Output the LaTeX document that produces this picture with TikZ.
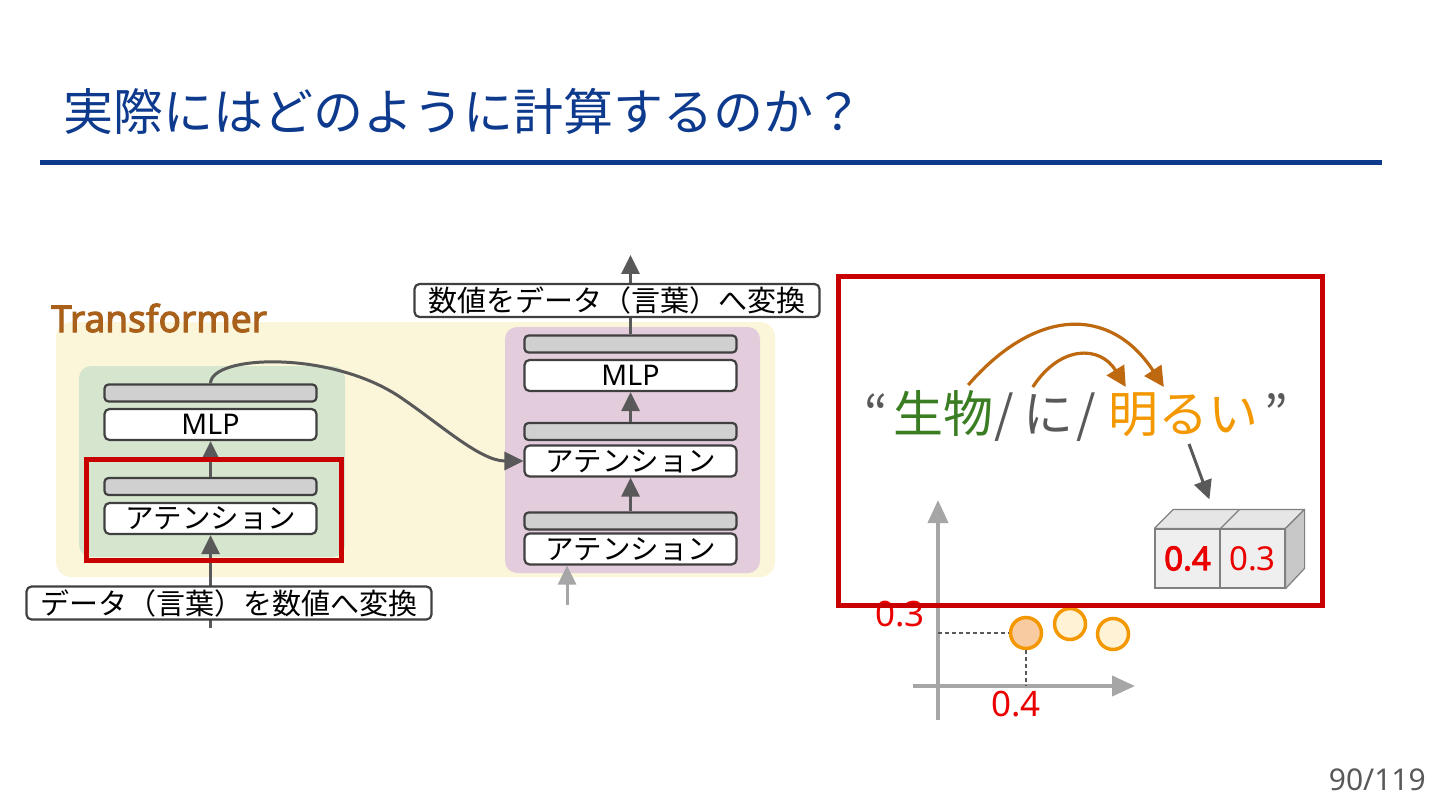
\documentclass[tikz,border=0pt]{standalone}
\usepackage{fontspec}
\setmainfont{Noto Sans CJK JP}
\newfontfamily\latfont{Noto Sans}
\newfontfamily\boldlat{Noto Sans}[FakeBold=3]
\usetikzlibrary{arrows.meta}
\definecolor{titleblue}{RGB}{14,58,142}
\definecolor{dk}{RGB}{64,64,64}
\definecolor{arrg}{RGB}{89,89,89}
\definecolor{barg}{RGB}{208,208,208}
\definecolor{ybg}{RGB}{251,246,218}
\definecolor{gbg}{RGB}{214,230,206}
\definecolor{pbg}{RGB}{227,204,220}
\definecolor{redbox}{RGB}{200,0,0}
\definecolor{brownlab}{RGB}{168,96,26}
\definecolor{brownarr}{RGB}{190,105,15}
\definecolor{wgreen}{RGB}{58,125,34}
\definecolor{worange}{RGB}{243,152,0}
\definecolor{numred}{RGB}{235,0,0}
\definecolor{axisg}{RGB}{166,166,166}
\definecolor{cubef}{RGB}{239,239,239}
\definecolor{cubet}{RGB}{230,230,230}
\definecolor{cubes}{RGB}{200,200,200}
\definecolor{cubee}{RGB}{128,128,128}
\definecolor{pfilla}{RGB}{248,203,160}
\definecolor{pfillb}{RGB}{255,242,213}
\newcommand{\myfs}[1]{\fontsize{#1pt}{#1pt}\selectfont}
\begin{document}
\begin{tikzpicture}[x=1pt,y=-1pt,
  bar/.style={draw=dk, line width=2.2pt, fill=barg, rounded corners=4pt, minimum width=212pt, minimum height=17pt, inner sep=0pt},
  blk/.style={draw=dk, line width=2.2pt, fill=white, rounded corners=5pt, minimum width=212pt, minimum height=31pt, inner sep=0pt, font=\myfs{28.5}},
  lbl/.style={draw=dk, line width=2.2pt, fill=white, rounded corners=5pt, minimum height=33pt, inner sep=0pt, inner xsep=14pt, font=\myfs{29}},
  arr/.style={draw=arrg, line width=3pt, -{Triangle[length=19pt,width=18pt]}},
  barr/.style={draw=brownarr, line width=3.2pt, -{Triangle[length=20pt,width=20pt]}, fill=none},
  ax/.style={draw=axisg, line width=4pt, -{Triangle[length=23pt,width=20pt]}},
  dsh/.style={draw=arrg, line width=1.1pt, dash pattern=on 4pt off 3pt},
  pt/.style={circle, draw=worange, line width=3.5pt, minimum size=31pt, inner sep=0pt},
  cell/.style={draw=cubee, line width=1.2pt, fill=cubef, minimum width=65pt, minimum height=59pt, inner sep=0pt, text=numred, font=\latfont\myfs{33}},
  word/.style={anchor=base, inner sep=0pt, font=\myfs{50}},
  num/.style={inner sep=0pt, text=numred, font=\latfont\myfs{35}}]
\useasboundingbox (0,0) rectangle (1440,810);
% title
\node[anchor=base west, inner sep=0pt, font=\myfs{50}, text=titleblue] (title) at (63,131) {実際にはどのように計算するのか？};
\fill[titleblue] (40,160) rectangle (1382,165);
\node[anchor=base east, inner sep=0pt, font=\latfont\myfs{30}, text=arrg] (pg) at (1426,790) {90/119};
% backgrounds
\fill[ybg, rounded corners=15pt] (56,322) rectangle (775,577);
\fill[gbg, rounded corners=12pt] (79,366) rectangle (345,557);
\fill[pbg, rounded corners=12pt] (505,327) rectangle (760,573);
\node[anchor=base west, inner sep=0pt, font=\boldlat\myfs{37}, text=brownlab] (tf) at (51,332) {Transformer};
% left stack
\node[bar] (lb1) at (210.5,393) {};
\node[blk] (lm) at (210.5,424.5) {\latfont MLP};
\node[bar] (lb2) at (210.5,486.5) {};
\node[blk] (la) at (210.5,518.5) {アテンション};
% right stack
\node[bar] (rb1) at (630.5,344) {};
\node[blk] (rm) at (630.5,375.5) {\latfont MLP};
\node[bar] (rb2) at (630.5,431.5) {};
\node[blk] (ra1) at (630.5,461) {アテンション};
\node[bar] (rb3) at (630.5,521) {};
\node[blk] (ra2) at (630.5,549) {アテンション};
% arrows
\coordinate (inL) at (210.5,628);
\coordinate (inR) at (567,605);
\coordinate (outR) at (630.5,255);
\draw[arr] (inL) -- (la.south);
\draw[arr] (lb2.north) -- (lm.south);
\draw[arr] (rb2.north) -- (rm.south);
\draw[arr] (rb3.north) -- (ra1.south);
\draw[arr, draw=axisg] (inR) -- (inR |- ra2.south);
\draw[arr] (rb1.north) -- (outR);
\draw[arr] (lb1.north) .. controls (211,355) and (330,350) .. (400,397) .. controls (440,424) and (480,461) .. (ra1.west);
% io boxes
\node[lbl] (din) at (229,603) {データ（言葉）を数値へ変換};
\node[lbl] (dout) at (617,300.5) {数値をデータ（言葉）へ変換};
\draw[redbox, line width=5pt] (86,459) rectangle (341,560);
% right panel: sentence
\node[word, text=arrg] (q1) at (876,432) {“};
\node[word, text=wgreen] (w1) at (943,432) {生物};
\node[word, text=arrg] (s1) at (1004,432) {/};
\node[word, text=arrg] (w2) at (1048,432) {に};
\node[word, text=arrg] (s2) at (1086,432) {/};
\node[word, text=worange] (w3) at (1183,432) {明るい};
\node[word, text=arrg] (q2) at (1276,432) {”};
\draw[barr] ([xshift=-25pt,yshift=47pt]w1.base east) .. controls (1035,308) and (1110,305) .. ([xshift=56pt,yshift=45pt]w3.base west);
\draw[barr] ([xshift=10pt,yshift=45pt]w2.base west) .. controls (1060,345) and (1100,345) .. ([xshift=18pt,yshift=45pt]w3.base west);
% cube
\node[cell] (c1) at (1187.5,558.5) {\boldlat 0.4};
\node[cell] (c2) at (1252.5,558.5) {0.3};
\draw[cubee, fill=cubet, line width=1.2pt, line join=round] (c1.north west) -- ++(19,-19) -- ([xshift=19pt,yshift=19pt]c2.north east) -- (c2.north east) -- cycle;
\draw[cubee, line width=1.2pt] (c1.north east) -- ++(19,-19);
\draw[cubee, fill=cubes, line width=1.2pt, line join=round] (c2.north east) -- ++(19,-19) -- ++(0,59) -- (c2.south east) -- cycle;
\draw[arr] ([xshift=6pt,yshift=-12pt]w3.base) -- ([xshift=-10pt,yshift=29pt]c2.north west);
% chart
\coordinate (yb) at (938,720);
\coordinate (yt) at (938,500);
\coordinate (xl) at (913,686);
\coordinate (xr) at (1135,686);
\draw[ax] (yb) -- (yt);
\draw[ax] (xl) -- (xr);
\node[pt, fill=pfilla] (p1) at (1026,633) {};
\node[pt, fill=pfillb] (p2) at (1070,624) {};
\node[pt, fill=pfillb] (p3) at (1113,634) {};
\draw[dsh] (yt |- p1.west) -- (p1.west);
\draw[dsh] (p1.south) -- (p1 |- xl);
\node[num] (l03) at (900,614) {0.3};
\node[num] (l04) at (1016,704) {0.4};
\draw[redbox, line width=5pt] (838,277) rectangle (1322,605);
\end{tikzpicture}
\end{document}
